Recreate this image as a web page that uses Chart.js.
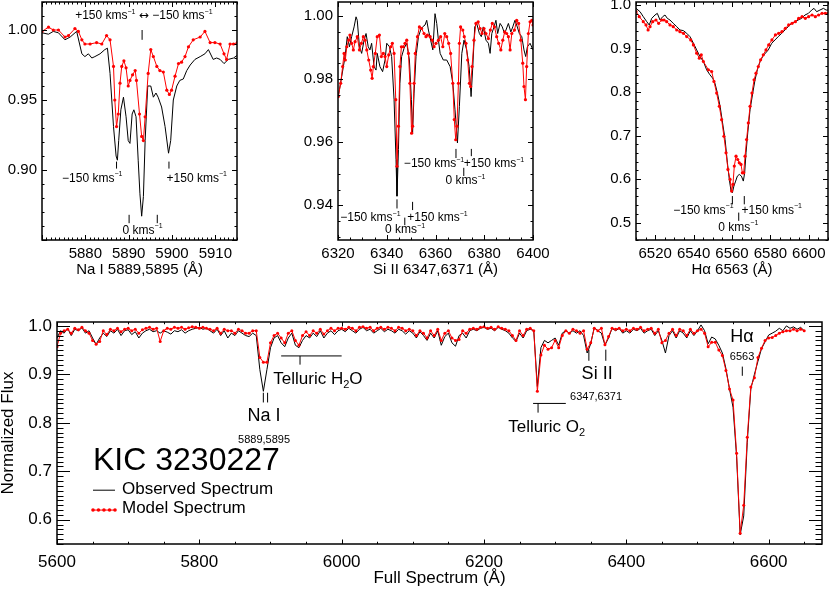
<!DOCTYPE html>
<html>
<head>
<meta charset="utf-8">
<script src="https://cdn.jsdelivr.net/npm/chart.js@4.4.1/dist/chart.umd.min.js"></script>
<style>
  html, body { margin: 0; padding: 0; background: #fff; }
  body { width: 831px; height: 591px; position: relative; overflow: hidden; }
  canvas { position: absolute; }
</style>
</head>
<body>
<canvas id="naChart" width="250" height="280" style="left:0;top:0"></canvas>
<canvas id="siChart" width="280" height="280" style="left:290px;top:0"></canvas>
<canvas id="haChart" width="241" height="280" style="left:590px;top:0"></canvas>
<canvas id="fullChart" width="831" height="301" style="left:0;top:290px"></canvas>
<script>
// ---- Na I panel ----
const naObsWave = [5870.0, 5871.5, 5872.6, 5873.8, 5875.3, 5876.5, 5878.0, 5879.2, 5879.9, 5880.7, 5881.5, 5882.2, 5883.4, 5884.5, 5885.1, 5885.7, 5886.5, 5887.1, 5887.4, 5887.7, 5888.2, 5888.8, 5889.4, 5889.9, 5890.3, 5890.8, 5891.2, 5891.7, 5892.2, 5892.6, 5893.0, 5893.4, 5893.8, 5894.4, 5895.1, 5895.7, 5896.3, 5896.8, 5897.6, 5898.4, 5899.2, 5899.7, 5900.3, 5901.1, 5901.8, 5902.6, 5903.4, 5904.2, 5905.3, 5906.5, 5907.6, 5908.4, 5909.5, 5910.3, 5911.1, 5912.0, 5913.0, 5914.2, 5915.1];
const naObsFlux = [0.998, 0.997, 0.999, 0.998, 0.993, 0.995, 0.999, 0.983, 0.981, 0.983, 0.980, 0.981, 0.983, 0.986, 0.987, 0.969, 0.931, 0.910, 0.907, 0.921, 0.943, 0.952, 0.938, 0.921, 0.919, 0.940, 0.943, 0.938, 0.907, 0.883, 0.867, 0.881, 0.921, 0.960, 0.960, 0.952, 0.955, 0.952, 0.945, 0.931, 0.912, 0.921, 0.950, 0.960, 0.964, 0.965, 0.971, 0.975, 0.979, 0.981, 0.983, 0.986, 0.979, 0.980, 0.979, 0.976, 0.979, 0.980, 0.982];
const naModelWave = [5870.0, 5871.5, 5872.6, 5873.8, 5875.3, 5876.1, 5877.6, 5878.4, 5879.2, 5879.9, 5881.1, 5882.6, 5883.8, 5884.9, 5885.7, 5886.5, 5886.8, 5887.2, 5887.6, 5888.0, 5888.4, 5888.9, 5889.4, 5889.9, 5890.3, 5890.9, 5891.5, 5891.8, 5892.5, 5893.0, 5893.4, 5893.8, 5894.5, 5895.1, 5895.7, 5896.5, 5897.2, 5898.0, 5898.8, 5899.4, 5899.9, 5900.7, 5901.5, 5902.2, 5903.0, 5903.8, 5904.9, 5906.5, 5907.6, 5908.8, 5909.9, 5911.1, 5912.0, 5912.6, 5913.4, 5914.2, 5915.1];
const naModelFlux = [0.999, 1.002, 1.000, 1.000, 0.995, 0.996, 1.001, 0.999, 0.993, 0.990, 0.990, 0.991, 0.990, 0.996, 0.993, 0.974, 0.950, 0.931, 0.940, 0.962, 0.974, 0.978, 0.973, 0.960, 0.964, 0.968, 0.971, 0.964, 0.940, 0.924, 0.921, 0.938, 0.969, 0.986, 0.981, 0.974, 0.971, 0.970, 0.957, 0.954, 0.957, 0.967, 0.976, 0.977, 0.981, 0.988, 0.993, 0.995, 0.999, 0.991, 0.991, 0.990, 0.983, 0.979, 0.990, 0.990, 0.991];
const naTicksX = [5880, 5890, 5900, 5910];
const naTicksY = [0.90, 0.95, 1.00];

// ---- Si II panel ----
const siObsWave = [6320.1, 6321.5, 6322.9, 6323.8, 6324.7, 6325.6, 6326.6, 6327.4, 6327.9, 6328.8, 6329.7, 6330.7, 6331.5, 6332.4, 6333.1, 6333.8, 6334.8, 6335.6, 6336.1, 6337.2, 6338.3, 6339.3, 6340.0, 6341.1, 6342.0, 6343.0, 6343.8, 6344.2, 6344.8, 6345.4, 6346.1, 6347.1, 6348.2, 6349.3, 6350.1, 6350.6, 6351.2, 6352.0, 6353.0, 6353.9, 6354.7, 6355.7, 6356.4, 6357.1, 6358.0, 6358.9, 6359.8, 6360.5, 6361.2, 6361.9, 6363.2, 6364.6, 6366.0, 6367.1, 6368.0, 6369.0, 6369.8, 6370.8, 6371.7, 6372.8, 6373.8, 6374.6, 6375.3, 6376.1, 6376.9, 6378.0, 6378.8, 6379.6, 6380.7, 6381.7, 6382.4, 6383.1, 6384.0, 6384.8, 6385.5, 6386.5, 6387.4, 6388.3, 6388.9, 6389.9, 6390.9, 6391.7, 6392.6, 6393.3, 6394.4, 6395.4, 6396.3, 6397.0, 6397.7, 6398.8, 6400.0];
const siObsFlux = [0.9745, 0.9808, 0.9872, 0.9935, 0.9903, 0.9935, 0.9966, 0.9998, 0.9987, 0.9903, 0.9882, 0.9924, 0.9945, 0.9903, 0.9893, 0.9914, 0.9840, 0.9829, 0.9882, 0.9840, 0.9824, 0.9861, 0.9914, 0.9903, 0.9872, 0.9735, 0.9545, 0.9429, 0.9577, 0.9787, 0.9872, 0.9898, 0.9914, 0.9861, 0.9735, 0.9629, 0.9756, 0.9872, 0.9935, 0.9956, 0.9966, 0.9972, 0.9987, 0.9956, 0.9924, 0.9893, 1.0008, 0.9977, 0.9924, 0.9882, 0.9861, 0.9861, 0.9840, 0.9787, 0.9703, 0.9598, 0.9714, 0.9882, 0.9924, 0.9893, 0.9840, 0.9745, 0.9840, 0.9966, 0.9977, 0.9945, 0.9935, 0.9966, 0.9924, 0.9914, 0.9882, 0.9945, 0.9966, 0.9987, 0.9945, 0.9977, 0.9966, 0.9945, 0.9956, 0.9977, 0.9950, 0.9966, 0.9987, 0.9972, 0.9945, 0.9935, 0.9893, 0.9872, 0.9903, 0.9914, 0.9893];
const siModelWave = [6320.1, 6321.1, 6321.9, 6322.5, 6323.0, 6323.6, 6324.4, 6324.9, 6325.6, 6326.3, 6327.0, 6327.9, 6328.8, 6329.6, 6330.4, 6331.1, 6331.8, 6332.6, 6333.4, 6334.0, 6334.5, 6335.3, 6336.1, 6337.0, 6337.8, 6338.6, 6339.3, 6340.0, 6340.8, 6341.6, 6342.3, 6343.0, 6343.7, 6344.2, 6344.8, 6345.4, 6346.0, 6346.8, 6347.5, 6348.2, 6348.9, 6349.5, 6350.2, 6350.6, 6351.2, 6351.7, 6352.6, 6353.4, 6354.3, 6355.3, 6356.1, 6356.7, 6357.8, 6358.6, 6359.4, 6360.2, 6361.2, 6362.1, 6363.0, 6363.8, 6364.6, 6365.4, 6366.2, 6367.1, 6367.7, 6368.3, 6368.8, 6369.4, 6369.8, 6370.3, 6371.2, 6371.8, 6372.5, 6373.2, 6373.9, 6374.4, 6375.0, 6375.8, 6376.6, 6377.5, 6378.3, 6379.1, 6379.9, 6380.7, 6381.7, 6382.5, 6383.3, 6384.2, 6385.1, 6385.9, 6386.8, 6387.6, 6388.4, 6389.2, 6389.9, 6390.6, 6391.3, 6392.4, 6393.3, 6394.1, 6395.0, 6395.8, 6396.3, 6396.9, 6397.4, 6398.1, 6398.8, 6399.5, 6400.0];
const siModelFlux = [0.9745, 0.9787, 0.9840, 0.9882, 0.9861, 0.9903, 0.9924, 0.9940, 0.9914, 0.9893, 0.9919, 0.9935, 0.9893, 0.9914, 0.9935, 0.9924, 0.9893, 0.9861, 0.9829, 0.9803, 0.9840, 0.9882, 0.9935, 0.9940, 0.9872, 0.9882, 0.9872, 0.9840, 0.9877, 0.9903, 0.9914, 0.9882, 0.9735, 0.9524, 0.9651, 0.9840, 0.9903, 0.9903, 0.9914, 0.9924, 0.9882, 0.9787, 0.9629, 0.9651, 0.9787, 0.9882, 0.9935, 0.9966, 0.9961, 0.9945, 0.9935, 0.9940, 0.9935, 0.9924, 0.9903, 0.9914, 0.9924, 0.9935, 0.9903, 0.9945, 0.9935, 0.9914, 0.9882, 0.9787, 0.9672, 0.9608, 0.9651, 0.9787, 0.9914, 0.9966, 0.9956, 0.9935, 0.9914, 0.9861, 0.9787, 0.9777, 0.9840, 0.9924, 0.9977, 0.9982, 0.9961, 0.9945, 0.9961, 0.9945, 0.9929, 0.9956, 0.9977, 0.9966, 0.9935, 0.9914, 0.9893, 0.9924, 0.9950, 0.9945, 0.9935, 0.9893, 0.9945, 0.9956, 0.9987, 0.9977, 0.9924, 0.9851, 0.9777, 0.9735, 0.9840, 0.9945, 0.9982, 0.9987, 0.9972];
const siTicksX = [6320, 6340, 6360, 6380, 6400];
const siTicksY = [0.94, 0.96, 0.98, 1.00];

// ---- H-alpha panel ----
const haObsWave = [6510.0, 6512.1, 6513.8, 6515.6, 6516.9, 6518.2, 6519.9, 6521.1, 6522.5, 6523.9, 6525.1, 6526.3, 6527.7, 6529.4, 6531.2, 6532.9, 6534.7, 6536.4, 6538.1, 6539.9, 6541.6, 6543.3, 6545.1, 6546.8, 6548.5, 6549.9, 6551.1, 6552.4, 6553.8, 6555.1, 6556.4, 6557.6, 6558.6, 6559.5, 6560.2, 6561.0, 6561.9, 6562.8, 6563.8, 6564.9, 6565.9, 6566.6, 6567.3, 6568.2, 6569.4, 6570.8, 6572.0, 6573.2, 6574.6, 6576.0, 6577.4, 6578.9, 6580.7, 6582.4, 6584.1, 6585.9, 6587.6, 6589.3, 6591.1, 6592.8, 6594.5, 6596.3, 6598.0, 6599.8, 6601.5, 6602.7, 6604.1, 6605.8, 6607.6, 6609.0, 6610.0];
const haObsFlux = [0.9924, 0.9847, 0.9733, 0.9618, 0.9542, 0.9695, 0.9771, 0.9809, 0.9656, 0.9733, 0.9771, 0.9695, 0.9656, 0.9580, 0.9504, 0.9427, 0.9412, 0.9351, 0.9275, 0.9122, 0.8969, 0.8817, 0.8702, 0.8511, 0.8397, 0.8321, 0.8206, 0.7977, 0.7672, 0.7290, 0.6908, 0.6374, 0.5992, 0.5725, 0.5687, 0.5840, 0.5954, 0.6069, 0.6107, 0.6069, 0.5954, 0.6145, 0.6603, 0.7061, 0.7595, 0.7977, 0.8282, 0.8511, 0.8702, 0.8817, 0.8893, 0.8969, 0.9122, 0.9198, 0.9275, 0.9351, 0.9427, 0.9504, 0.9580, 0.9618, 0.9656, 0.9695, 0.9771, 0.9809, 0.9885, 0.9924, 0.9847, 0.9885, 0.9924, 0.9885, 0.9885];
const haModelWave = [6510.0, 6511.7, 6513.8, 6515.2, 6516.3, 6517.3, 6518.7, 6520.4, 6521.8, 6523.4, 6524.6, 6526.0, 6527.7, 6529.4, 6531.2, 6532.9, 6534.7, 6536.4, 6538.5, 6539.9, 6541.6, 6543.0, 6544.0, 6545.1, 6547.7, 6549.4, 6550.6, 6552.0, 6553.4, 6554.6, 6555.8, 6556.9, 6557.9, 6559.0, 6559.8, 6560.5, 6561.2, 6562.1, 6563.0, 6563.8, 6564.7, 6565.4, 6566.1, 6566.8, 6567.6, 6568.5, 6569.4, 6570.4, 6571.5, 6572.5, 6573.7, 6574.9, 6576.3, 6577.7, 6579.1, 6580.8, 6582.6, 6584.3, 6586.0, 6587.8, 6589.5, 6591.3, 6593.0, 6594.7, 6596.5, 6598.2, 6599.9, 6601.7, 6603.4, 6605.1, 6606.9, 6608.6, 6610.0];
const haModelFlux = [0.9847, 0.9733, 0.9618, 0.9542, 0.9427, 0.9504, 0.9618, 0.9656, 0.9580, 0.9656, 0.9656, 0.9618, 0.9542, 0.9504, 0.9427, 0.9389, 0.9351, 0.9275, 0.9198, 0.9084, 0.8893, 0.8779, 0.8855, 0.8702, 0.8511, 0.8473, 0.8244, 0.7977, 0.7672, 0.7366, 0.6985, 0.6603, 0.6221, 0.5992, 0.5725, 0.5878, 0.6298, 0.6527, 0.6450, 0.6374, 0.6336, 0.6145, 0.6145, 0.6527, 0.6908, 0.7290, 0.7672, 0.7977, 0.8282, 0.8435, 0.8588, 0.8740, 0.8855, 0.8969, 0.9084, 0.9198, 0.9313, 0.9351, 0.9389, 0.9466, 0.9542, 0.9580, 0.9618, 0.9695, 0.9733, 0.9695, 0.9733, 0.9771, 0.9733, 0.9771, 0.9809, 0.9809, 0.9809];
const haTicksX = [6520, 6540, 6560, 6580, 6600];
const haTicksY = [0.5, 0.6, 0.7, 0.8, 0.9, 1.0];

// ---- full spectrum, sampled every 5 A from 5600 A ----
const fullObsFlux = [
  0.975, 0.990, 0.985, 0.995, 0.980, 0.993, 0.990, 0.996, 0.985, 0.990, 0.975, 0.962, 0.975, 0.985, 0.978, 0.990, 0.985, 0.993, 0.980, 0.990,
  0.992, 0.982, 0.988, 0.975, 0.985, 0.990, 0.993, 0.988, 0.990, 0.985, 0.990, 0.987, 0.983, 0.990, 0.988, 0.992, 0.985, 0.990, 0.993, 0.995,
  0.997, 0.993, 0.995, 0.990, 0.985, 0.993, 0.980, 0.990, 0.975, 0.985, 0.980, 0.990, 0.985, 0.980, 0.978, 0.985, 0.980, 0.910, 0.865, 0.910,
  0.955, 0.975, 0.980, 0.965, 0.957, 0.975, 0.985, 0.960, 0.955, 0.970, 0.980, 0.975, 0.985, 0.978, 0.990, 0.975, 0.985, 0.990, 0.982, 0.990,
  0.993, 0.988, 0.995, 0.990, 0.985, 0.993, 0.997, 0.990, 0.993, 0.985, 0.990, 0.995, 0.988, 0.993, 0.990, 0.985, 0.993, 0.990, 0.983, 0.990,
  0.985, 0.975, 0.988, 0.980, 0.970, 0.985, 0.975, 0.990, 0.960, 0.978, 0.985, 0.965, 0.958, 0.980, 0.985, 0.975, 0.990, 0.993, 0.990, 0.995,
  0.997, 0.993, 0.995, 0.990, 0.997, 0.993, 0.990, 0.985, 0.975, 0.968, 0.985, 0.975, 0.990, 0.993, 0.990, 0.875, 0.955, 0.970, 0.965, 0.970,
  0.975, 0.960, 0.985, 0.990, 0.985, 0.990, 0.985, 0.990, 0.980, 0.944, 0.963, 0.997, 0.990, 0.985, 0.960, 0.975, 0.995, 0.990, 0.995, 0.985,
  0.990, 0.985, 0.993, 0.990, 0.995, 0.985, 0.990, 0.993, 0.980, 0.990, 0.970, 0.944, 0.980, 0.990, 0.975, 0.990, 0.985, 0.975, 0.990, 0.980,
  0.990, 1.002, 0.990, 0.963, 0.977, 0.973, 0.960, 0.944, 0.912, 0.870, 0.832, 0.730, 0.569, 0.608, 0.760, 0.870, 0.900, 0.927, 0.953, 0.967,
  0.981, 0.985, 0.989, 0.995, 0.990, 1.000, 0.995, 0.998, 0.993, 0.997, 0.990
];
const fullModelFlux = [
  0.957, 0.985, 0.990, 0.993, 0.985, 0.995, 0.992, 0.997, 0.990, 0.985, 0.970, 0.962, 0.968, 0.990, 0.982, 0.993, 0.990, 0.995, 0.988, 0.993,
  0.995, 0.990, 0.993, 0.985, 0.992, 0.995, 0.997, 0.993, 0.995, 0.968, 0.990, 0.995, 0.993, 0.997, 0.995, 0.997, 0.993, 0.996, 0.998, 0.997,
  0.995, 0.997, 0.995, 0.993, 0.990, 0.995, 0.985, 0.993, 0.990, 0.990, 0.985, 0.993, 0.990, 0.985, 0.985, 0.990, 0.990, 0.935, 0.925, 0.925,
  0.965, 0.980, 0.985, 0.975, 0.965, 0.985, 0.990, 0.970, 0.960, 0.980, 0.988, 0.980, 0.990, 0.985, 0.993, 0.983, 0.990, 0.995, 0.990, 0.995,
  0.995, 0.993, 0.997, 0.995, 0.990, 0.997, 0.998, 0.995, 0.997, 0.990, 0.995, 0.997, 0.993, 0.997, 0.995, 0.990, 0.997, 0.995, 0.990, 0.993,
  0.990, 0.980, 0.990, 0.985, 0.975, 0.990, 0.980, 0.993, 0.970, 0.985, 0.990, 0.975, 0.970, 0.972, 0.990, 0.985, 0.993, 0.995, 0.993, 0.997,
  0.998, 0.995, 0.997, 0.993, 0.998, 0.995, 0.993, 0.990, 0.980, 0.970, 0.990, 0.980, 0.993, 0.995, 0.990, 0.865, 0.940, 0.960, 0.952, 0.955,
  0.970, 0.955, 0.980, 0.990, 0.985, 0.993, 0.990, 0.985, 0.990, 0.952, 0.965, 0.995, 0.990, 0.995, 0.961, 0.978, 0.995, 0.993, 0.995, 0.990,
  0.993, 0.990, 0.995, 0.993, 0.997, 0.990, 0.993, 0.995, 0.985, 0.993, 0.965, 0.970, 0.985, 0.993, 0.980, 0.993, 0.990, 0.980, 0.993, 0.985,
  0.990, 0.993, 0.985, 0.957, 0.966, 0.966, 0.950, 0.939, 0.908, 0.870, 0.847, 0.737, 0.572, 0.630, 0.770, 0.874, 0.893, 0.935, 0.954, 0.970,
  0.975, 0.976, 0.980, 0.985, 0.988, 0.990, 0.990, 0.993, 0.990, 0.993, 0.990
];
const fullWave = fullObsFlux.map((_, i) => 5600 + 5 * i);
const fullTicksX = [5600, 5800, 6000, 6200, 6400, 6600];
const fullTicksY = [0.6, 0.7, 0.8, 0.9, 1.0];

const RED = '#ff0000';
const FONT = '"Liberation Sans", Arial, Helvetica, sans-serif';
const SYMBOL_FONT = '"DejaVu Sans", sans-serif';

function pts(xs, ys) {
  return xs.map((x, i) => ({ x: x, y: ys[i] }));
}

// text with super/subscripts: parts = [[text, 0 | 1 (sup) | -1 (sub) | 2 (symbol)], ...]
function partFont(m, size) {
  if (m === 2) return size + 'px ' + SYMBOL_FONT;
  return (m ? Math.round(size * 0.62) : size) + 'px ' + FONT;
}

function drawRich(ctx, parts, x, y, size, align) {
  const widths = parts.map(([t, m]) => {
    ctx.font = partFont(m, size);
    return ctx.measureText(t).width;
  });
  const total = widths.reduce((a, b) => a + b, 0);
  let cx = align === 'center' ? x - total / 2 : align === 'right' ? x - total : x;
  ctx.textAlign = 'left';
  ctx.textBaseline = 'middle';
  parts.forEach(([t, m], i) => {
    ctx.font = partFont(m, size);
    const dy = m === 1 ? -size * 0.33 : m === -1 ? size * 0.3 : 0;
    ctx.fillText(t, cx, y + dy);
    cx += widths[i];
  });
}

function eachTick(min, max, major, minor, fn) {
  const n0 = Math.ceil(min / minor - 1e-6), n1 = Math.floor(max / minor + 1e-6);
  for (let n = n0; n <= n1; n++) {
    const v = n * minor;
    const r = v / major;
    fn(v, Math.abs(r - Math.round(r)) < 1e-6);
  }
}

// box frame with inward ticks on all four sides
function frameTicks(o) {
  return {
    id: 'frameTicks',
    afterDatasetsDraw(chart) {
      const { ctx, chartArea: a, scales: { x, y } } = chart;
      ctx.save();
      ctx.strokeStyle = '#000';
      ctx.lineWidth = 1;
      ctx.beginPath();
      eachTick(x.min, x.max, o.xMajor, o.xMinor, (v, major) => {
        const px = Math.round(x.getPixelForValue(v)) + 0.5;
        const len = major ? o.xLen : o.xLen / 2;
        ctx.moveTo(px, a.bottom); ctx.lineTo(px, a.bottom - len);
        ctx.moveTo(px, a.top); ctx.lineTo(px, a.top + len);
      });
      eachTick(y.min, y.max, o.yMajor, o.yMinor, (v, major) => {
        const py = Math.round(y.getPixelForValue(v)) + 0.5;
        const len = major ? o.yLen : o.yLen / 2;
        ctx.moveTo(a.left, py); ctx.lineTo(a.left + len, py);
        ctx.moveTo(a.right, py); ctx.lineTo(a.right - len, py);
      });
      ctx.stroke();
      ctx.lineWidth = 1.5;
      ctx.strokeRect(a.left, a.top, a.right - a.left, a.bottom - a.top);
      ctx.restore();
    }
  };
}

// labels, line markers and legend, placed in data coordinates
function marks(m) {
  return {
    id: 'marks',
    afterDatasetsDraw(chart) {
      const { ctx, scales: { x, y } } = chart;
      ctx.save();
      ctx.lineWidth = 1;
      (m.lines || []).forEach(l => {
        ctx.strokeStyle = l.color || '#000';
        ctx.beginPath();
        l.pts.forEach(([a, b], i) => {
          const px = x.getPixelForValue(a), py = y.getPixelForValue(b);
          if (i) ctx.lineTo(px, py); else ctx.moveTo(px, py);
        });
        ctx.stroke();
      });
      (m.dots || []).forEach(([a, b]) => {
        ctx.fillStyle = RED;
        ctx.beginPath();
        ctx.arc(x.getPixelForValue(a), y.getPixelForValue(b), 1.8, 0, Math.PI * 2);
        ctx.fill();
      });
      ctx.fillStyle = '#000';
      (m.texts || []).forEach(t => {
        drawRich(ctx, t.parts, x.getPixelForValue(t.x), y.getPixelForValue(t.y), t.size, t.align || 'center');
      });
      ctx.restore();
    }
  };
}

function makeChart(id, c) {
  return new Chart(document.getElementById(id), {
    type: 'line',
    data: {
      datasets: [
        {
          label: 'Model Spectrum', data: pts(c.modelX, c.modelY),
          borderColor: RED, backgroundColor: RED, borderWidth: 1,
          pointRadius: c.dot, pointBorderWidth: 0, pointBackgroundColor: RED
        },
        {
          label: 'Observed Spectrum', data: pts(c.obsX, c.obsY),
          borderColor: '#000', borderWidth: 1, pointRadius: 0
        }
      ]
    },
    options: {
      responsive: false,
      animation: false,
      events: [],
      layout: { autoPadding: false, padding: c.pad },
      plugins: { legend: { display: false }, tooltip: { enabled: false } },
      scales: {
        x: {
          type: 'linear', min: c.xMin, max: c.xMax,
          grid: { display: false, drawTicks: false }, border: { display: false },
          ticks: { font: { family: FONT, size: c.tickSize }, color: '#000', padding: c.xPad, maxRotation: 0, autoSkip: false,
                   callback: v => String(v) },
          title: { display: true, text: c.xTitle, color: '#000', font: { family: FONT, size: c.titleSize }, padding: { top: 0, bottom: c.titlePad } },
          afterBuildTicks: s => { s.ticks = c.xTicks.map(v => ({ value: v })); },
          afterFit: s => { s.height = c.xH; s.paddingLeft = 0; s.paddingRight = 0; }
        },
        y: {
          type: 'linear', min: c.yMin, max: c.yMax,
          grid: { display: false, drawTicks: false }, border: { display: false },
          ticks: { font: { family: FONT, size: c.tickSize }, color: '#000', padding: 5, autoSkip: false,
                   callback: v => v.toFixed(c.yDec) },
          title: c.yTitle ? { display: true, text: c.yTitle, color: '#000', font: { family: FONT, size: c.titleSize, lineHeight: 1 }, padding: 0 } : { display: false },
          afterBuildTicks: s => { s.ticks = c.yTicks.map(v => ({ value: v })); },
          afterFit: s => { s.width = c.yW; s.paddingTop = 0; s.paddingBottom = 0; }
        }
      }
    },
    plugins: [frameTicks(c.frame), marks(c.marks)]
  });
}

const kms = s => [[s + ' kms', 0], ['\u22121', 1]];

makeChart('naChart', {
  obsX: naObsWave, obsY: naObsFlux, modelX: naModelWave, modelY: naModelFlux, dot: 1.6,
  xMin: 5870, xMax: 5915, yMin: 0.85, yMax: 1.02, xTicks: naTicksX, yTicks: naTicksY, yDec: 2,
  xTitle: 'Na I 5889,5895 (\u00c5)', tickSize: 15, titleSize: 15, titlePad: 1, xPad: 5,
  pad: { left: 0, top: 2, right: 13, bottom: 0 }, yW: 42, xH: 40,
  frame: { xMajor: 10, xMinor: 1, yMajor: 0.05, yMinor: 0.01, xLen: 5, yLen: 5 },
  marks: {
    lines: [
      { pts: [[5893.1, 1.0], [5893.1, 0.993]] },
      { pts: [[5887.2, 0.906], [5887.2, 0.901]] },
      { pts: [[5899.3, 0.906], [5899.3, 0.901]] },
      { pts: [[5890.1, 0.868], [5890.1, 0.862]] },
      { pts: [[5896.6, 0.868], [5896.6, 0.862]] }
    ],
    texts: [
      { x: 5893.5, y: 1.010, size: 12, parts: [['+150 kms', 0], ['\u22121', 1], [' ', 0], ['\u2194', 2], [' \u2212150 kms', 0], ['\u22121', 1]] },
      { x: 5881.6, y: 0.894, size: 12, parts: kms('\u2212150') },
      { x: 5905.7, y: 0.894, size: 12, parts: kms('+150') },
      { x: 5893.2, y: 0.857, size: 12, parts: kms('0') }
    ]
  }
});

makeChart('siChart', {
  obsX: siObsWave, obsY: siObsFlux, modelX: siModelWave, modelY: siModelFlux, dot: 1.6,
  xMin: 6320, xMax: 6400, yMin: 0.929, yMax: 1.0045, xTicks: siTicksX, yTicks: siTicksY, yDec: 2,
  xTitle: 'Si II 6347,6371 (\u00c5)', tickSize: 15, titleSize: 15, titlePad: 1, xPad: 5,
  pad: { left: 0, top: 2, right: 37, bottom: 0 }, yW: 48, xH: 40,
  frame: { xMajor: 20, xMinor: 5, yMajor: 0.02, yMinor: 0.005, xLen: 5, yLen: 5 },
  marks: {
    lines: [
      { pts: [[6344.2, 0.9419], [6344.2, 0.9390]] },
      { pts: [[6347.4, 0.9361], [6347.4, 0.9337]] },
      { pts: [[6350.6, 0.9411], [6350.6, 0.9385]] },
      { pts: [[6368.4, 0.9579], [6368.4, 0.9550]] },
      { pts: [[6371.6, 0.9519], [6371.6, 0.9493]] },
      { pts: [[6374.7, 0.9579], [6374.7, 0.9556]] }
    ],
    texts: [
      { x: 6333.3, y: 0.9361, size: 12, parts: kms('\u2212150') },
      { x: 6360.8, y: 0.9361, size: 12, parts: kms('+150') },
      { x: 6347.5, y: 0.9322, size: 12, parts: kms('0') },
      { x: 6359.4, y: 0.9532, size: 12, parts: kms('\u2212150') },
      { x: 6384.0, y: 0.9532, size: 12, parts: kms('+150') },
      { x: 6372.3, y: 0.9477, size: 12, parts: kms('0') }
    ]
  }
});

makeChart('haChart', {
  obsX: haObsWave, obsY: haObsFlux, modelX: haModelWave, modelY: haModelFlux, dot: 1.6,
  xMin: 6510, xMax: 6610, yMin: 0.46, yMax: 1.007, xTicks: haTicksX, yTicks: haTicksY, yDec: 1,
  xTitle: 'H\u03b1 6563 (\u00c5)', tickSize: 15, titleSize: 15, titlePad: 1, xPad: 5,
  pad: { left: 0, top: 2, right: 3, bottom: 0 }, yW: 46, xH: 40,
  frame: { xMajor: 20, xMinor: 5, yMajor: 0.1, yMinor: 0.02, xLen: 5, yLen: 5 },
  marks: {
    lines: [
      { pts: [[6560.2, 0.561], [6560.2, 0.542]] },
      { pts: [[6566.4, 0.561], [6566.4, 0.542]] },
      { pts: [[6563.5, 0.523], [6563.5, 0.504]] }
    ],
    texts: [
      { x: 6545.1, y: 0.528, size: 12, parts: kms('\u2212150') },
      { x: 6580.7, y: 0.528, size: 12, parts: kms('+150') },
      { x: 6563.3, y: 0.489, size: 12, parts: kms('0') }
    ]
  }
});

makeChart('fullChart', {
  obsX: fullWave, obsY: fullObsFlux, modelX: fullWave, modelY: fullModelFlux, dot: 1.5,
  xMin: 5600, xMax: 6675, yMin: 0.55, yMax: 1.008, xTicks: fullTicksX, yTicks: fullTicksY, yDec: 1,
  xTitle: 'Full Spectrum (\u00c5)', yTitle: 'Normalized Flux', tickSize: 17, titleSize: 17, titlePad: 2, xPad: 8,
  pad: { left: 0, top: 32, right: 9, bottom: 0 }, yW: 57, xH: 47,
  frame: { xMajor: 200, xMinor: 50, yMajor: 0.1, yMinor: 0.01, xLen: 4.5, yLen: 13 },
  marks: {
    lines: [
      { pts: [[5889.95, 0.862], [5889.95, 0.842]] },
      { pts: [[5895.92, 0.862], [5895.92, 0.842]] },
      { pts: [[5915, 0.938], [6000, 0.938]] },
      { pts: [[5941.5, 0.938], [5941.5, 0.920]] },
      { pts: [[6269, 0.840], [6315, 0.840]] },
      { pts: [[6276, 0.840], [6276, 0.821]] },
      { pts: [[6347.4, 0.951], [6347.4, 0.928]] },
      { pts: [[6371.2, 0.951], [6371.2, 0.928]] },
      { pts: [[6563, 0.916], [6563, 0.897]] },
      { pts: [[5650.6, 0.661], [5681.5, 0.661]] },
      { pts: [[5650.6, 0.620], [5681.5, 0.620]], color: RED }
    ],
    dots: [[5650.6, 0.620], [5658.3, 0.620], [5666.0, 0.620], [5673.8, 0.620], [5681.5, 0.620]],
    texts: [
      { x: 5891, y: 0.813, size: 18, parts: [['Na I', 0]] },
      { x: 5891, y: 0.765, size: 11, parts: [['5889,5895', 0]] },
      { x: 5904, y: 0.889, size: 17, align: 'left', parts: [['Telluric H', 0], ['2', -1], ['O', 0]] },
      { x: 6234, y: 0.790, size: 17, align: 'left', parts: [['Telluric O', 0], ['2', -1]] },
      { x: 6359, y: 0.901, size: 18, parts: [['Si II', 0]] },
      { x: 6357.5, y: 0.854, size: 11, parts: [['6347,6371', 0]] },
      { x: 6562.6, y: 0.977, size: 18, parts: [['H\u03b1', 0]] },
      { x: 6562.6, y: 0.936, size: 11, parts: [['6563', 0]] },
      { x: 5650.6, y: 0.721, size: 32, align: 'left', parts: [['KIC 3230227', 0]] },
      { x: 5691.3, y: 0.663, size: 17, align: 'left', parts: [['Observed Spectrum', 0]] },
      { x: 5691.3, y: 0.623, size: 17, align: 'left', parts: [['Model Spectrum', 0]] }
    ]
  }
});
</script>
</body>
</html>
